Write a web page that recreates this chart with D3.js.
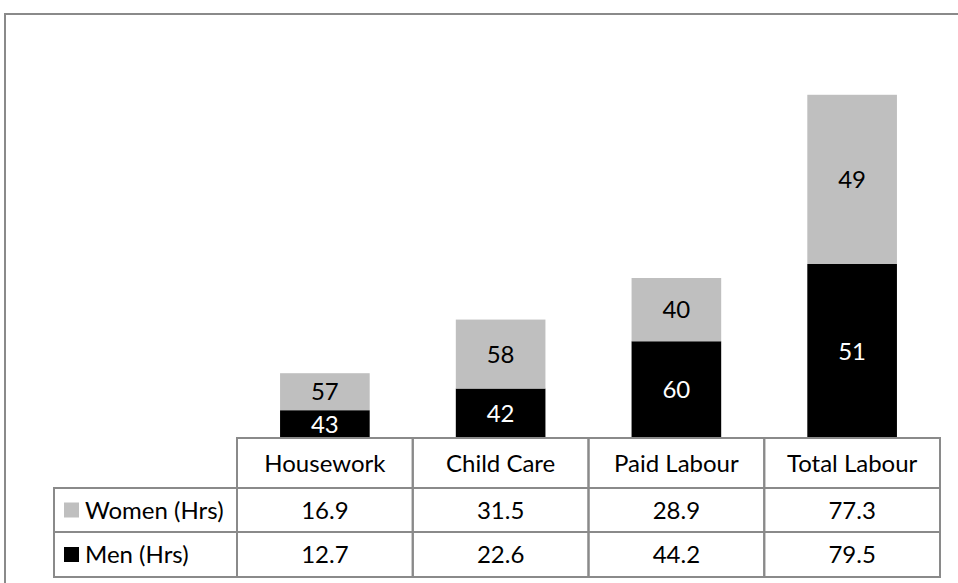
<!DOCTYPE html>
<html>
<head>
<meta charset="utf-8">
<script src="https://cdn.jsdelivr.net/npm/d3@7"></script>
<style>
  body { margin: 0; background: #fff; }
  text { font-family: Lato, "Open Sans", sans-serif; }
</style>
</head>
<body>
<div id="chart"></div>
<script>
// data
var categories = ["Housework", "Child Care", "Paid Labour", "Total Labour"];
var women = [16.9, 31.5, 28.9, 77.3];
var men = [12.7, 22.6, 44.2, 79.5];
var womenPct = [57, 58, 40, 49];
var menPct = [43, 42, 60, 51];
var seriesNames = ["Women (Hrs)", "Men (Hrs)"];
var seriesColors = ["#bfbfbf", "#000000"];

var W = 958, H = 583;
var fs = 24;
var svg = d3.select("#chart").append("svg")
    .attr("width", W)
    .attr("height", H);

// outer frame (runs off the page to the right and bottom)
svg.append("rect")
    .attr("x", 5).attr("y", 14)
    .attr("width", W + 20).attr("height", H + 20)
    .attr("fill", "none")
    .attr("stroke", "#8a8a8a")
    .attr("stroke-width", 2);

var left = 237, right = 940, base = 438;
var legendLeft = 54;

// column scale for table, band scale for bars
var col = d3.scaleBand().domain(categories).range([left, right]);
var x = d3.scaleBand().domain(categories).range([left, right])
    .paddingInner(0.49).paddingOuter(0.245);
var y = d3.scaleLinear().domain([0, 180]).range([base, 44]);

var rows = categories.map(function (c, i) {
    return { cat: c, men: men[i], women: women[i], mp: menPct[i], wp: womenPct[i] };
});

// men (bottom, black)
svg.selectAll("rect.men").data(rows).enter().append("rect")
    .attr("class", "men")
    .attr("x", function (d) { return x(d.cat); })
    .attr("y", function (d) { return y(d.men); })
    .attr("width", x.bandwidth())
    .attr("height", function (d) { return base - y(d.men); })
    .attr("fill", seriesColors[1]);

// women (top, grey)
svg.selectAll("rect.women").data(rows).enter().append("rect")
    .attr("class", "women")
    .attr("x", function (d) { return x(d.cat); })
    .attr("y", function (d) { return y(d.men + d.women); })
    .attr("width", x.bandwidth())
    .attr("height", function (d) { return y(d.men) - y(d.men + d.women); })
    .attr("fill", seriesColors[0]);

// percentage labels
svg.selectAll("text.mp").data(rows).enter().append("text")
    .attr("x", function (d) { return x(d.cat) + x.bandwidth() / 2; })
    .attr("y", function (d) { return y(d.men / 2); })
    .attr("dy", "0.36em")
    .attr("text-anchor", "middle")
    .attr("font-size", fs)
    .attr("fill", "#fff")
    .text(function (d) { return d.mp; });

svg.selectAll("text.wp").data(rows).enter().append("text")
    .attr("x", function (d) { return x(d.cat) + x.bandwidth() / 2; })
    .attr("y", function (d) { return y(d.men + d.women / 2); })
    .attr("dy", "0.36em")
    .attr("text-anchor", "middle")
    .attr("font-size", fs)
    .attr("fill", "#000")
    .text(function (d) { return d.wp; });

// data table
var rowTops = [base, 488, 532, 577];
var g = svg.append("g")
    .attr("fill", "none")
    .attr("stroke", "#8a8a8a")
    .attr("stroke-width", 2);

// header row cells
g.selectAll("rect.hdr").data(categories).enter().append("rect")
    .attr("x", function (d) { return col(d); })
    .attr("y", rowTops[0])
    .attr("width", col.bandwidth())
    .attr("height", rowTops[1] - rowTops[0]);

// body rows
[0, 1].forEach(function (r) {
    g.append("rect")
        .attr("x", legendLeft).attr("y", rowTops[r + 1])
        .attr("width", left - legendLeft)
        .attr("height", rowTops[r + 2] - rowTops[r + 1]);
    g.selectAll("rect.r" + r).data(categories).enter().append("rect")
        .attr("x", function (d) { return col(d); })
        .attr("y", rowTops[r + 1])
        .attr("width", col.bandwidth())
        .attr("height", rowTops[r + 2] - rowTops[r + 1]);
});

// header text
svg.selectAll("text.hdr").data(categories).enter().append("text")
    .attr("x", function (d) { return col(d) + col.bandwidth() / 2; })
    .attr("y", (rowTops[0] + rowTops[1]) / 2)
    .attr("dy", "0.36em")
    .attr("text-anchor", "middle")
    .attr("font-size", fs)
    .text(function (d) { return d; });

var tableValues = [women, men];
tableValues.forEach(function (vals, r) {
    var cy = (rowTops[r + 1] + rowTops[r + 2]) / 2;
    svg.append("rect")
        .attr("x", 64).attr("y", cy - 7.5)
        .attr("width", 15).attr("height", 15)
        .attr("fill", seriesColors[r]);
    svg.append("text")
        .attr("x", 85).attr("y", cy)
        .attr("dy", "0.36em")
        .attr("font-size", fs)
        .text(seriesNames[r]);
    svg.selectAll("text.v" + r).data(vals).enter().append("text")
        .attr("x", function (d, i) { return col(categories[i]) + col.bandwidth() / 2; })
        .attr("y", cy)
        .attr("dy", "0.36em")
        .attr("text-anchor", "middle")
        .attr("font-size", fs)
        .text(function (d) { return d.toFixed(1); });
});
</script>
</body>
</html>
